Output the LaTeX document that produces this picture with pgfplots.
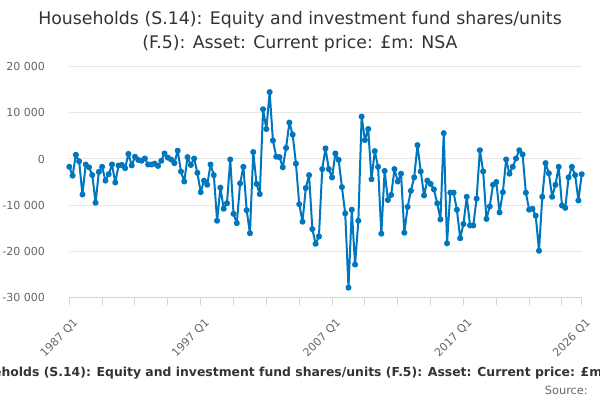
\documentclass[border=0pt]{standalone}
\usepackage{pgfplots}
\pgfplotsset{compat=1.18}
\usepackage{fontspec}
\setmainfont{DejaVu Sans}
\definecolor{lineblue}{RGB}{0,118,190}
\definecolor{gridgrey}{RGB}{230,230,230}
\definecolor{axisblue}{RGB}{204,214,235}
\definecolor{ticktext}{RGB}{102,102,102}
\definecolor{titletext}{RGB}{51,51,51}
\begin{document}
\begin{tikzpicture}
\path[use as bounding box] (0pt,0pt) rectangle (450pt,300pt);
\begin{scope}
\clip (0pt,0pt) rectangle (450pt,300pt);
\node[anchor=base,text=titletext,font=\fontsize{13pt}{15pt}\selectfont,inner sep=0pt] at (225pt,281.25pt) {Households (S.14): Equity and investment fund shares/units};
\node[anchor=base,text=titletext,font=\fontsize{13pt}{15pt}\selectfont,inner sep=0pt] at (225pt,263.25pt) {(F.5): Asset: Current price: £m: NSA};
\node[anchor=base,text=titletext,font=\bfseries\fontsize{9.3pt}{11pt}\selectfont,inner sep=0pt] at (225pt,17.25pt) {Households (S.14): Equity and investment fund shares/units (F.5): Asset: Current price: £m: NSA};
\node[anchor=base east,text=ticktext,font=\fontsize{8.5pt}{10pt}\selectfont,inner sep=0pt] at (441pt,4.5pt) {Source:};
\end{scope}
\begin{axis}[
  at={(51.975pt,77.025pt)}, anchor=south west,
  scale only axis, width=384.3pt, height=172.9pt,
  xmin=0, xmax=156, ymin=-30000, ymax=20000,
  axis x line*=bottom,
  axis y line*=left,
  x axis line style={draw=axisblue,line width=0.75pt,-},
  y axis line style={draw=none},
  ytick={-30000,-20000,...,20000},
  scaled y ticks=false,
  yticklabel={\pgfmathprintnumber[fixed,precision=0,1000 sep={\ },assume math mode=true]{\tick}},
  ymajorgrids, grid style={gridgrey,line width=0.75pt},
  xtick={0,40,80,120,156},
  xticklabels={1987 Q1,1997 Q1,2007 Q1,2017 Q1,2026 Q1},
  minor xtick={10,20,30,50,60,70,90,100,110,130,140,150},
  tick align=outside, major tick length=6pt, minor tick length=6pt,
  xtick style={draw=axisblue,line width=0.75pt},
  minor x tick style={draw=axisblue,line width=0.75pt},
  ytick style={draw=none},
  xticklabel style={xshift=2.5pt,yshift=-9pt,rotate=45,anchor=north east,inner sep=0pt,text=ticktext,font=\fontsize{8.3pt}{10pt}\selectfont},
  yticklabel style={anchor=east,inner sep=0pt,xshift=-12pt,text=ticktext,font=\fontsize{8.3pt}{10pt}\selectfont},
  clip=false,
]
\addplot[lineblue, line width=1.5pt, line join=round, mark=*, mark size=1.5pt, mark options={lineblue}] table[x=i,y=v] {
i v
0 -1700
1 -3600
2 900
3 -500
4 -7700
5 -1200
6 -1800
7 -3500
8 -9500
9 -2800
10 -1700
11 -4700
12 -3300
13 -1200
14 -5100
15 -1400
16 -1300
17 -2000
18 1100
19 -1400
20 500
21 -200
22 -400
23 100
24 -1200
25 -1200
26 -1000
27 -1500
28 -400
29 1200
30 300
31 -100
32 -900
33 1800
34 -2700
35 -4900
36 400
37 -1300
38 100
39 -3000
40 -7200
41 -4700
42 -5600
43 -1200
44 -3500
45 -13400
46 -6200
47 -10800
48 -9600
49 -100
50 -11900
51 -13900
52 -5300
53 -1700
54 -11100
55 -16100
56 1500
57 -5400
58 -7600
59 10800
60 6500
61 14500
62 4000
63 500
64 400
65 -1800
66 2400
67 7900
68 5300
69 -1000
70 -9800
71 -13600
72 -6300
73 -3500
74 -15200
75 -18400
76 -16800
77 -2200
78 2300
79 -2200
80 -4000
81 1200
82 -200
83 -6100
84 -11800
85 -27900
86 -11000
87 -22900
88 -13400
89 9200
90 4100
91 6500
92 -4400
93 1700
94 -1700
95 -16200
96 -2600
97 -8900
98 -7800
99 -2200
100 -4900
101 -3200
102 -16000
103 -10400
104 -6900
105 -4000
106 3000
107 -2700
108 -7900
109 -4700
110 -5400
111 -6600
112 -9600
113 -13100
114 5600
115 -18300
116 -7300
117 -7300
118 -11000
119 -17200
120 -14100
121 -8200
122 -14400
123 -14400
124 -8600
125 1900
126 -2700
127 -13000
128 -10300
129 -5600
130 -5000
131 -11600
132 -7200
133 -100
134 -3200
135 -1700
136 100
137 1900
138 1000
139 -7300
140 -11000
141 -10800
142 -12300
143 -19900
144 -8200
145 -900
146 -3100
147 -8200
148 -5600
149 -1700
150 -10100
151 -10600
152 -4000
153 -1700
154 -3500
155 -9000
156 -3300
};
\end{axis}
\end{tikzpicture}
\end{document}
